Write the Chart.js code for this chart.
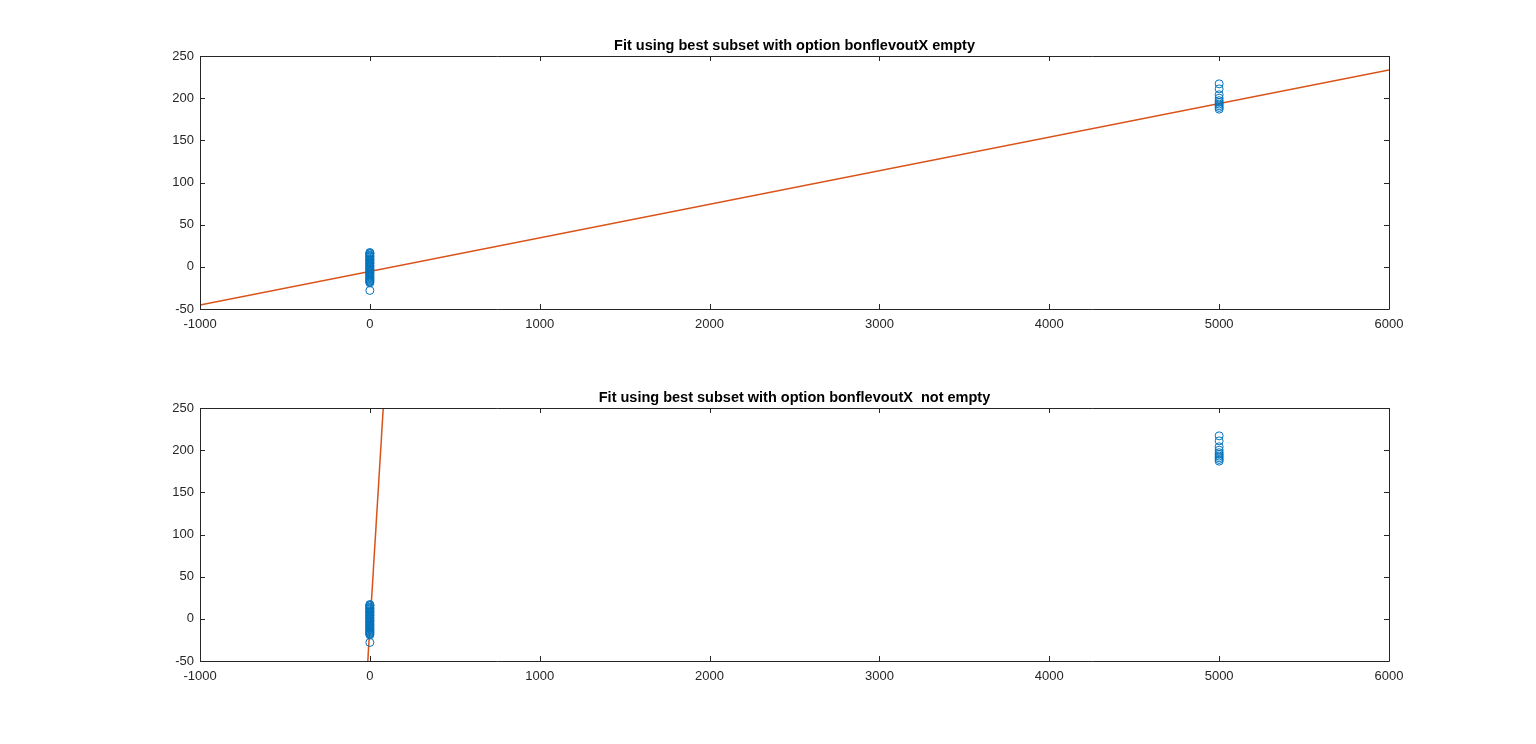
<!DOCTYPE html>
<html>
<head>
<meta charset="utf-8">
<title>Fit using best subset</title>
<script src="https://cdn.jsdelivr.net/npm/chart.js@4.4.0/dist/chart.umd.min.js"></script>
<style>
  html, body { margin: 0; padding: 0; background: #fff; }
  body { width: 1536px; height: 744px; position: relative; overflow: hidden; }
  .panel { position: absolute; left: 0; width: 1536px; height: 372px; }
</style>
</head>
<body>
<div class="panel" style="top:0"><canvas id="topChart"></canvas></div>
<div class="panel" style="top:352px"><canvas id="bottomChart"></canvas></div>
<script>
// x ticks / y ticks (as in the figure)
const xTicks = [-1000, 0, 1000, 2000, 3000, 4000, 5000, 6000]
const yTicks = [-50, 0, 50, 100, 150, 200, 250]

// observations: group near x = 0 and group near x = 5000
const xGroupA = 0
const yGroupA = [17, 16, 15.5, 14, 13, 12, 11.5, 10, 9, 8, 7.5, 6, 5, 4, 3.5, 2, 1, 0.5, -1, -2,
  -3, -3.5, -5, -6, -7, -8, -8.5, -10, -11, -12, -13, -14, -15, -16, -17, -18, -19, -28]
const xGroupB = 5000
const yGroupB = [217, 211, 204, 200, 197, 195, 193, 191, 189, 187]

// fitted lines: intercept, slope
const fitTop = [-5.4, 0.0398]
const fitBottom = [-10, 3.3]
const lineX = [-1000, 6000]

const titles = [
  'Fit using best subset with option bonflevoutX empty',
  'Fit using best subset with option bonflevoutX  not empty',
]

const axisColor = '#262626'
const fontFamily = '"Liberation Sans", Arial, Helvetica, sans-serif'

function scatterData() {
  const pts = []
  yGroupA.forEach(v => pts.push({ x: xGroupA, y: v }))
  yGroupB.forEach(v => pts.push({ x: xGroupB, y: v }))
  return pts
}

function lineData(fit) {
  return lineX.map(x => ({ x: x, y: fit[0] + fit[1] * x }))
}

// box around the axes + inward ticks on all four sides + title
const boxPlugin = {
  id: 'boxPlugin',
  afterDraw(chart, args, opts) {
    const ctx = chart.ctx
    const a = chart.chartArea
    const xs = chart.scales.x
    const ys = chart.scales.y
    const tl = 5
    ctx.save()
    ctx.strokeStyle = axisColor
    ctx.lineWidth = 1
    ctx.beginPath()
    ctx.rect(Math.round(a.left) + 0.5, Math.round(a.top) + 0.5,
      Math.round(a.right - a.left), Math.round(a.bottom - a.top))
    xTicks.forEach(t => {
      const px = Math.round(xs.getPixelForValue(t)) + 0.5
      ctx.moveTo(px, a.bottom)
      ctx.lineTo(px, a.bottom - tl)
      ctx.moveTo(px, a.top)
      ctx.lineTo(px, a.top + tl)
    })
    yTicks.forEach(t => {
      const py = Math.round(ys.getPixelForValue(t)) + 0.5
      ctx.moveTo(a.left, py)
      ctx.lineTo(a.left + tl, py)
      ctx.moveTo(a.right, py)
      ctx.lineTo(a.right - tl, py)
    })
    ctx.stroke()
    ctx.fillStyle = '#000'
    ctx.font = 'bold 14.5px ' + fontFamily
    ctx.textAlign = 'center'
    ctx.textBaseline = 'alphabetic'
    ctx.fillText(opts.text, (a.left + a.right) / 2, a.top - 6)
    ctx.restore()
  },
}

function makeChart(id, fit, title) {
  const ctx = document.getElementById(id).getContext('2d')
  return new Chart(ctx, {
    type: 'scatter',
    data: {
      datasets: [
        {
          label: 'data',
          data: scatterData(),
          pointStyle: 'circle',
          pointRadius: 4,
          pointHoverRadius: 4,
          borderColor: '#0072BD',
          backgroundColor: 'rgba(0,0,0,0)',
          borderWidth: 1,
        },
        {
          label: 'fit',
          type: 'line',
          data: lineData(fit),
          borderColor: '#D95319',
          borderWidth: 1.5,
          pointRadius: 0,
          fill: false,
          showLine: true,
        },
      ],
    },
    options: {
      responsive: true,
      maintainAspectRatio: false,
      animation: false,
      layout: { padding: { left: 0, right: 147, top: 56, bottom: 33 } },
      plugins: {
        legend: { display: false },
        tooltip: { enabled: false },
        title: { display: false },
        boxPlugin: { text: title },
      },
      scales: {
        x: {
          type: 'linear',
          min: -1000,
          max: 6000,
          grid: { display: false, drawTicks: false },
          border: { display: false },
          afterBuildTicks: s => { s.ticks = xTicks.map(v => ({ value: v })) },
          afterFit: s => { s.height = 30 },
          ticks: {
            padding: 8,
            color: axisColor,
            font: { family: fontFamily, size: 13 },
            maxRotation: 0,
            autoSkip: false,
            callback: v => String(v),
          },
        },
        y: {
          type: 'linear',
          min: -50,
          max: 250,
          grid: { display: false, drawTicks: false },
          border: { display: false },
          afterBuildTicks: s => { s.ticks = yTicks.map(v => ({ value: v })) },
          afterFit: s => { s.width = 200 },
          ticks: {
            padding: 6,
            color: axisColor,
            font: { family: fontFamily, size: 13 },
            autoSkip: false,
            callback: v => String(v),
          },
        },
      },
    },
    plugins: [boxPlugin],
  })
}

makeChart('topChart', fitTop, titles[0])
makeChart('bottomChart', fitBottom, titles[1])
</script>
</body>
</html>
